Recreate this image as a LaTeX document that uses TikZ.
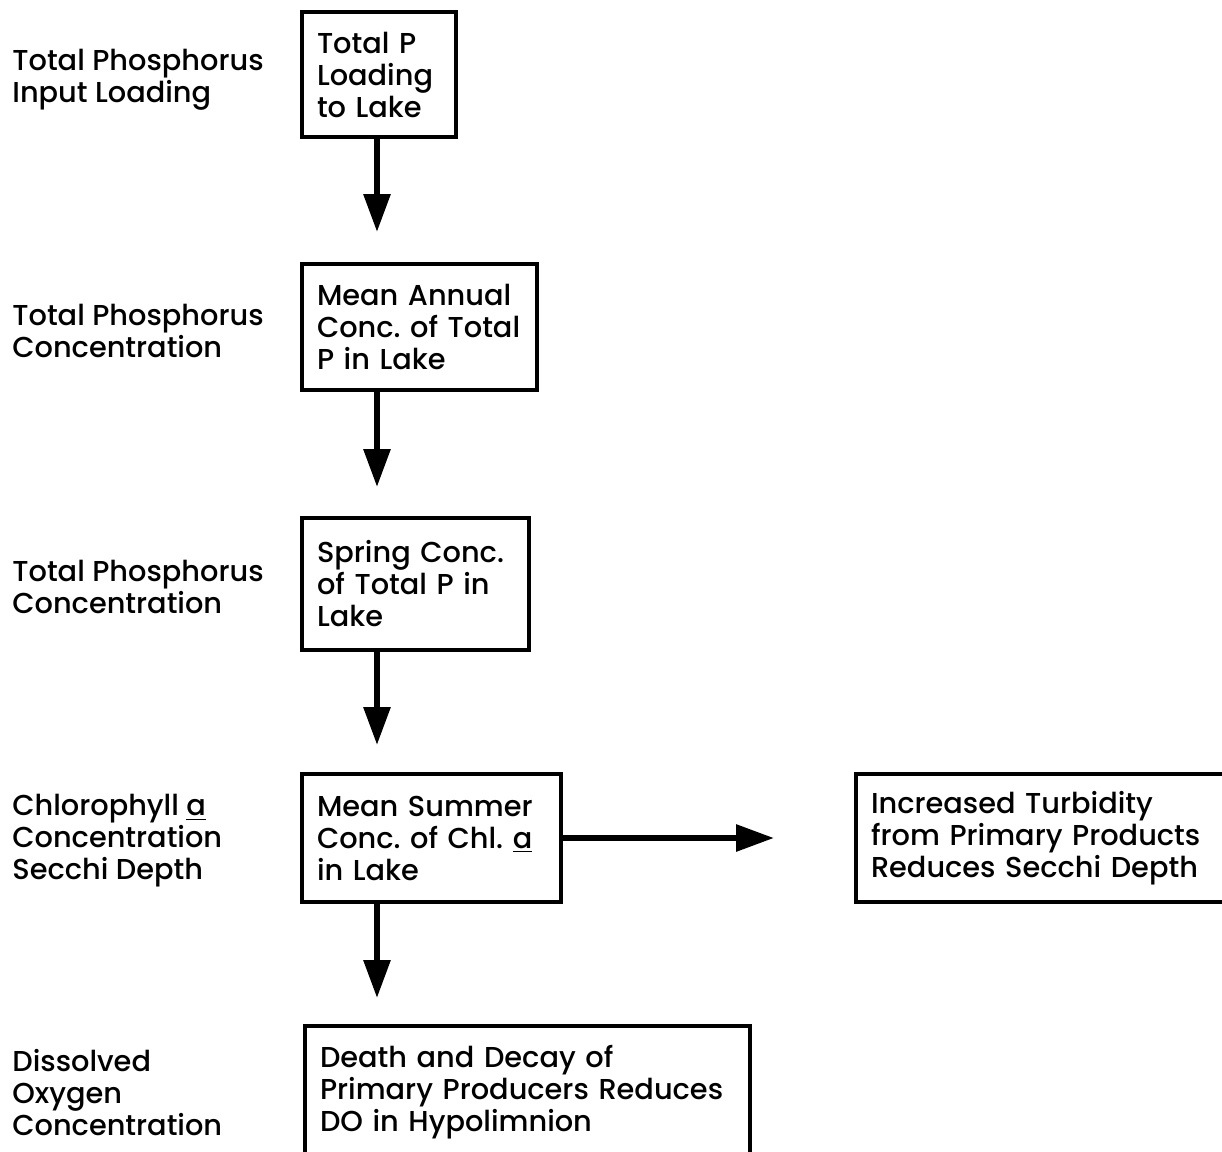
\documentclass[tikz,border=0pt]{standalone}
\usepackage{fontspec}
\setmainfont{Poppins}[UprightFont={* Medium}]
\usetikzlibrary{arrows.meta}
\frenchspacing

\tikzset{
  stagebox/.style={draw, line width=2pt, align=left, inner xsep=7.5pt, inner ysep=0pt,
    font=\fontsize{14.4}{16}\selectfont},
  sidelabel/.style={anchor=west, align=left, inner sep=0pt,
    font=\fontsize{14.4}{16}\selectfont},
  flow/.style={-{Triangle[length=19pt,width=13pt]}, line width=3pt},
}

\begin{document}
\begin{tikzpicture}[x=0.5pt, y=-0.5pt]
    \useasboundingbox (0,0) rectangle (1222,1152);

    % Boxes of the chain
    \node[stagebox, text width=62pt, minimum height=62.5pt] (load) at (379,74.5) {Total P\\Loading\\to Lake};
    \node[stagebox, text width=102.5pt, minimum height=63pt] (annual) at (419.5,327) {Mean Annual\\Conc. of Total\\P in Lake};
    \node[stagebox, text width=98.5pt, minimum height=66pt] (spring) at (415.5,584) {Spring Conc.\\of Total P in\\Lake};
    \node[stagebox, text width=114.5pt, minimum height=64pt] (summer) at (431.5,838) {Mean Summer\\Conc. of Chl. \underline{a}\\in Lake};
    \node[stagebox, text width=177pt, minimum height=64pt] (turbid) at (1048,838) {Increased Turbidity\\from Primary Products\\Reduces Secchi Depth};
    \node[stagebox, text width=207.5pt, minimum height=66pt] (decay) at (527.5,1092) {Death and Decay of\\Primary Producers Reduces\\DO in Hypolimnion};

    % Labels on the left
    \node[sidelabel] (lab1) at (12,80) {Total Phosphorus\\Input Loading};
    \node[sidelabel] (lab2) at (12,331) {Total Phosphorus\\Concentration};
    \node[sidelabel] (lab3) at (12,587) {Total Phosphorus\\Concentration};
    \node[sidelabel] (lab4) at (12,841) {Chlorophyll \underline{a}\\Concentration\\Secchi Depth};
    \node[sidelabel] (lab5) at (12,1093) {Dissolved\\Oxygen\\Concentration};

    % Arrows
    \coordinate (ax) at (377,0);
    \draw[flow, shorten >=15pt] (load.south -| ax) -- (annual.north -| ax);
    \draw[flow, shorten >=14.5pt] (annual.south -| ax) -- (spring.north -| ax);
    \draw[flow, shorten >=13.5pt] (spring.south -| ax) -- (summer.north -| ax);
    \draw[flow, shorten >=13pt] (summer.south -| ax) -- (decay.north -| ax);
    \draw[flow, shorten >=40pt] (summer.east) -- (turbid.west);
\end{tikzpicture}
\end{document}
